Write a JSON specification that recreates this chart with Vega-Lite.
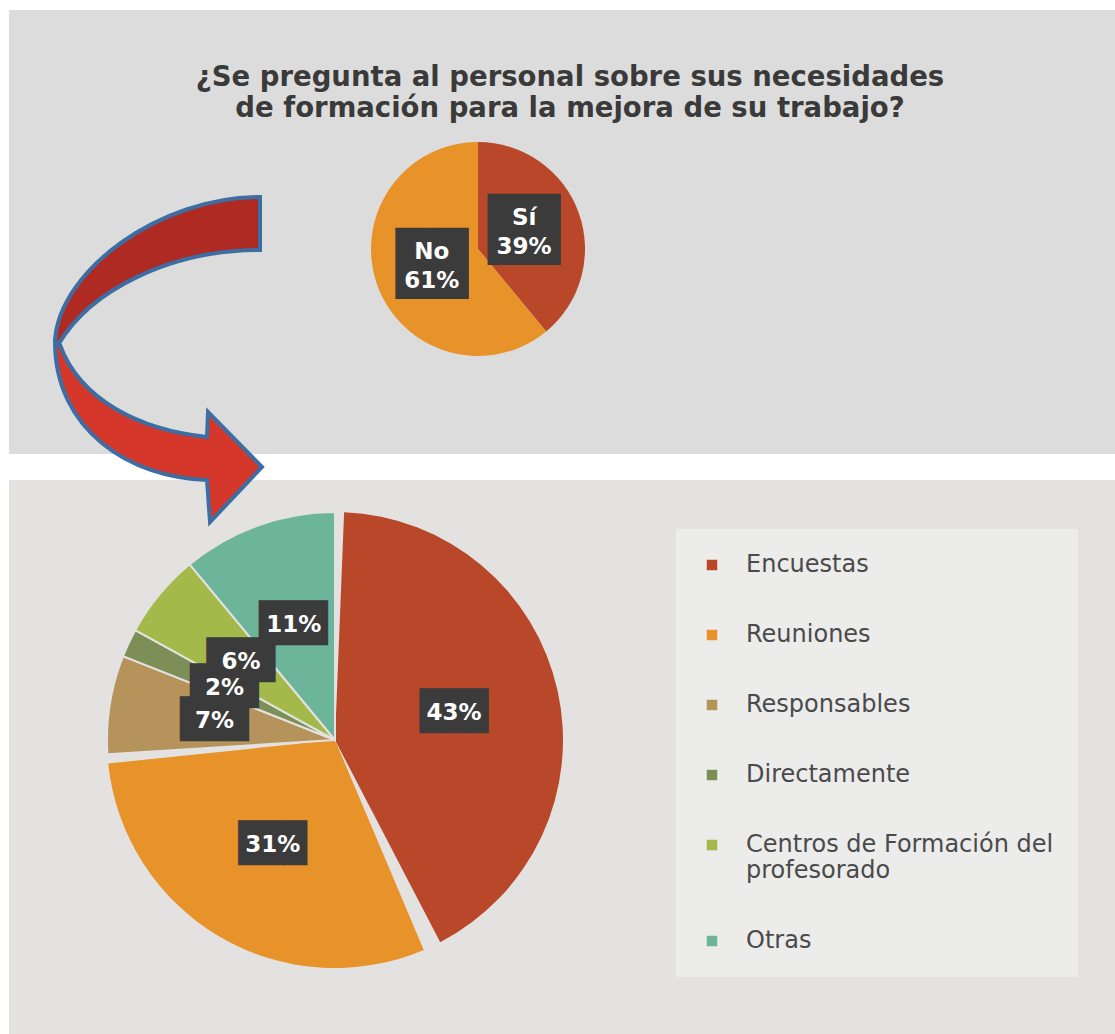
{
  "$schema": "https://vega.github.io/schema/vega-lite/v6.json",
  "background": "white",
  "padding": {"left": 9, "top": 10, "right": 0, "bottom": 0},
  "autosize": {"type": "pad"},
  "config": {"font": "DejaVu Sans", "view": {"stroke": null}},
  "datasets": {
    "pregunta": [
      {"respuesta": "Sí", "pct": 0.39, "orden": 1},
      {"respuesta": "No", "pct": 0.61, "orden": 2}
    ],
    "vias": [
      {"via": "Encuestas", "pct": 0.43, "orden": 1},
      {"via": "Reuniones", "pct": 0.31, "orden": 2},
      {"via": "Responsables", "pct": 0.07, "orden": 3},
      {"via": "Directamente", "pct": 0.02, "orden": 4},
      {"via": "Centros de Formación del profesorado", "pct": 0.06, "orden": 5},
      {"via": "Otras", "pct": 0.11, "orden": 6}
    ]
  },
  "spacing": -265,
  "vconcat": [
    {
      "title": {
        "text": ["¿Se pregunta al personal sobre sus necesidades", "de formación para la mejora de su trabajo?"],
        "fontSize": 27.5,
        "fontWeight": "bold",
        "color": "#3a3a3a",
        "anchor": "middle",
        "frame": "group",
        "offset": -112,
        "dx": 561,
        "lineHeight": 31
      },
      "columns": 2,
      "spacing": 0,
      "bounds": "flush",
      "concat": [
        {
          "width": 938,
          "height": 34,
          "view": {"fill": "#dcdcdc", "stroke": null},
          "data": {"values": [{}]},
          "mark": {"type": "text", "text": ""}
        },
        {
          "width": 168,
          "height": 34,
          "view": {"fill": "#dcdcdc", "stroke": null},
          "data": {"values": [{}]},
          "mark": {"type": "text", "text": ""}
        },
        {
          "width": 938,
          "height": 410,
          "view": {"fill": "#dcdcdc", "stroke": null},
          "data": {"name": "pregunta"},
          "encoding": {
            "theta": {"field": "pct", "type": "quantitative", "stack": true},
            "order": {"field": "orden", "type": "quantitative"}
          },
          "layer": [
            {
              "mark": {"type": "arc", "outerRadius": 107},
              "encoding": {
                "color": {
                  "field": "respuesta",
                  "type": "nominal",
                  "scale": {"domain": ["Sí", "No"], "range": ["#b9472a", "#e8922a"]},
                  "legend": null
                }
              }
            },
            {
              "mark": {"type": "text", "radius": 49, "font": "DejaVu Sans Mono", "fontSize": 60, "color": "#3b3b3b", "text": "██"},
              "encoding": {}
            },
            {
              "mark": {"type": "text", "radius": 49, "fontSize": 23, "fontWeight": "bold", "color": "white", "dy": -14},
              "encoding": {"text": {"field": "respuesta", "type": "nominal"}}
            },
            {
              "mark": {"type": "text", "radius": 49, "fontSize": 23, "fontWeight": "bold", "color": "white", "dy": 15},
              "encoding": {"text": {"field": "pct", "type": "quantitative", "format": ".0%"}}
            }
          ]
        },
        {
          "width": 168,
          "height": 410,
          "view": {"fill": "#dcdcdc", "stroke": null},
          "data": {"values": [{}]},
          "mark": {"type": "text", "text": ""}
        }
      ]
    },
    {
      "columns": 2,
      "spacing": 0,
      "bounds": "flush",
      "resolve": {"scale": {"color": "independent"}, "legend": {"color": "independent"}},
      "concat": [
        {
          "width": 652,
          "height": 520,
          "view": {"fill": "#e3e2e0", "stroke": null},
          "layer": [
            {
              "data": {"name": "vias"},
              "encoding": {
                "theta": {"field": "pct", "type": "quantitative", "stack": true},
                "order": {"field": "orden", "type": "quantitative"}
              },
              "layer": [
                {
                  "mark": {"type": "arc", "outerRadius": 228, "padAngle": 0.08},
                  "encoding": {
                    "color": {
                      "field": "via",
                      "type": "nominal",
                      "scale": {
                        "domain": ["Encuestas", "Reuniones", "Responsables", "Directamente", "Centros de Formación del profesorado", "Otras"],
                        "range": ["#b9472a", "#e8922a", "#b5935a", "#7b8f56", "#a4b94a", "#6cb49a"]
                      },
                      "legend": null
                    },
                    "opacity": {
                      "condition": {"test": "datum.via == 'Encuestas' || datum.via == 'Reuniones'", "value": 1},
                      "value": 0
                    }
                  }
                },
                {
                  "mark": {"type": "arc", "outerRadius": 228, "stroke": "#e3e2e0", "strokeWidth": 2},
                  "encoding": {
                    "color": {
                      "field": "via",
                      "type": "nominal",
                      "scale": {
                        "domain": ["Encuestas", "Reuniones", "Responsables", "Directamente", "Centros de Formación del profesorado", "Otras"],
                        "range": ["#b9472a", "#e8922a", "#b5935a", "#7b8f56", "#a4b94a", "#6cb49a"]
                      },
                      "legend": null
                    },
                    "opacity": {
                      "condition": {"test": "datum.via == 'Encuestas' || datum.via == 'Reuniones'", "value": 0},
                      "value": 1
                    }
                  }
                },
                {
                  "mark": {"type": "text", "radius": 122, "font": "DejaVu Sans Mono", "fontSize": 38, "color": "#3b3b3b", "text": "███"},
                  "encoding": {}
                },
                {
                  "mark": {"type": "text", "radius": 122, "fontSize": 23, "fontWeight": "bold", "color": "white"},
                  "encoding": {"text": {"field": "pct", "type": "quantitative", "format": ".0%"}}
                }
              ]
            },
            {
              "data": {"values": [{}]},
              "mark": {
                "type": "point",
                "shape": "M -75 -543 C -175 -543 -275 -470 -280 -400 L -277 -395 C -245 -450 -165 -490 -75 -490 Z",
                "size": 4,
                "filled": true,
                "fill": "#b02a24",
                "fillOpacity": 1,
                "opacity": 1,
                "stroke": "#3d6ea3",
                "strokeWidth": 4
              },
              "encoding": {}
            },
            {
              "data": {"values": [{}]},
              "mark": {
                "type": "point",
                "shape": "M -280 -398 C -280 -310 -205 -262 -128 -260 L -125 -218 L -73 -273 L -127 -328 L -128 -303 C -195 -310 -255 -340 -275 -395 Z",
                "size": 4,
                "filled": true,
                "fill": "#d5382b",
                "fillOpacity": 1,
                "opacity": 1,
                "stroke": "#3d6ea3",
                "strokeWidth": 4
              },
              "encoding": {}
            }
          ]
        },
        {
          "width": 454,
          "height": 520,
          "view": {"fill": "#e3e2e0", "stroke": null},
          "data": {"name": "vias"},
          "mark": {"type": "arc", "outerRadius": 0},
          "encoding": {
            "color": {
              "field": "via",
              "type": "nominal",
              "scale": {
                "domain": ["Encuestas", "Reuniones", "Responsables", "Directamente", "Centros de Formación del profesorado", "Otras"],
                "range": ["#b9472a", "#e8922a", "#b5935a", "#7b8f56", "#a4b94a", "#6cb49a"]
              },
              "legend": {
                "title": null,
                "orient": "none",
                "legendX": 15,
                "legendY": 49,
                "symbolType": "square",
                "symbolSize": 110,
                "symbolStrokeWidth": 0,
                "labelFont": "DejaVu Sans",
                "labelFontSize": 24,
                "labelColor": "#4a4a4a",
                "labelOffset": 22,
                "labelLimit": 400,
                "rowPadding": 46,
                "padding": 24,
                "fillColor": "#ececea",
                "labelExpr": "datum.label == 'Centros de Formación del profesorado' ? ['Centros de Formación del', 'profesorado'] : datum.label"
              }
            }
          }
        },
        {
          "width": 652,
          "height": 34,
          "view": {"fill": "#e3e2e0", "stroke": null},
          "data": {"values": [{}]},
          "mark": {"type": "text", "text": ""}
        },
        {
          "width": 454,
          "height": 34,
          "view": {"fill": "#e3e2e0", "stroke": null},
          "data": {"values": [{}]},
          "mark": {"type": "text", "text": ""}
        }
      ]
    }
  ]
}
